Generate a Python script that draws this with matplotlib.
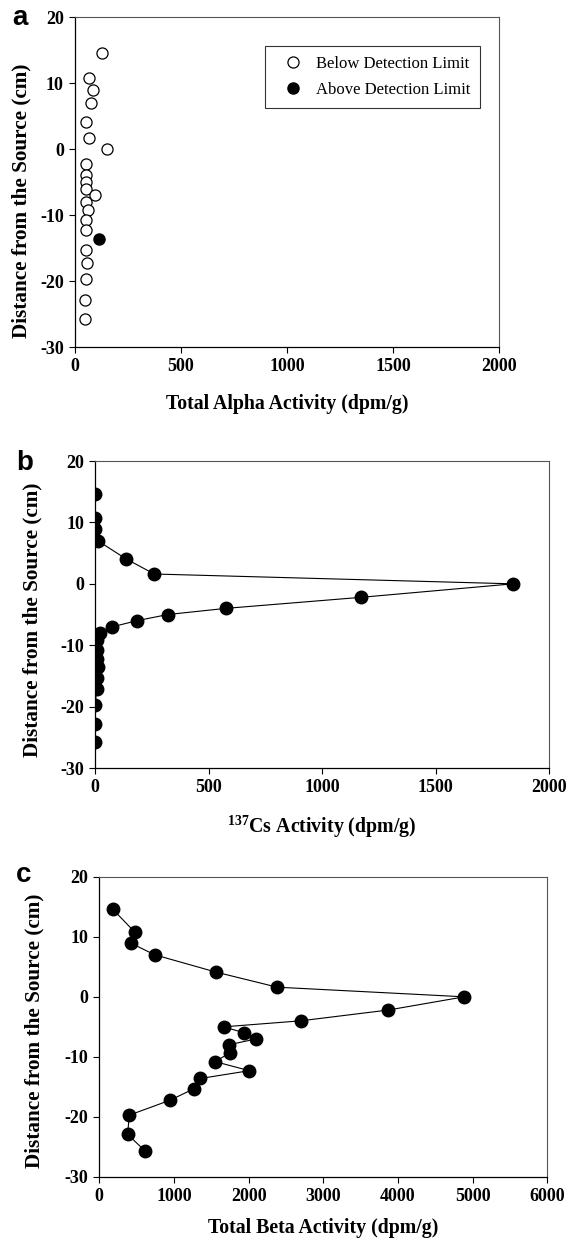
import numpy as np
import matplotlib
matplotlib.use("Agg")
import matplotlib.pyplot as plt

plt.rcParams['font.family'] = ['Liberation Serif', 'DejaVu Serif']
plt.rcParams['mathtext.fontset'] = 'custom'
plt.rcParams['mathtext.rm'] = 'Liberation Serif:bold'
plt.rcParams['mathtext.bf'] = 'Liberation Serif:bold'
plt.rcParams['axes.unicode_minus'] = False

# depth of each sample (cm from the source)
depth = [14.6, 10.8, 8.9, 7.0, 4.1, 1.6, 0.0, -2.2, -4.0, -5.0, -6.0, -7.0,
         -8.0, -9.2, -10.8, -12.3, -13.6, -15.3, -17.2, -19.7, -22.9, -25.7]

# panel a: total alpha, open = below detection limit
alpha_val = [126, 68, 85, 74, 53, 68, 151, 53, 53, 53, 53, 93,
             53, 61, 50, 53, 112, 50, 57, 50, 47, 47]
alpha_above = [False] * 22
alpha_above[16] = True

# panel b: 137Cs
cs_val = [0, 0, 0, 13, 135, 261, 1841, 1171, 575, 320, 185, 76,
          23, 7, 7, 7, 13, 7, 7, 1, 1, 1]

# panel c: total beta (order as connected by the line)
beta_val = [179, 473, 429, 741, 1567, 2384, 4888, 3871, 2696, 1665, 1942, 2103,
            1732, 1750, 1554, 2009, 1353, 1268, 951, 402, 379, 616]
beta_depth = [14.6, 10.8, 8.9, 7.0, 4.1, 1.6, 0.0, -2.2, -4.0, -5.0, -6.0, -7.0,
              -8.0, -9.3, -10.8, -12.3, -13.6, -15.3, -17.2, -19.7, -22.9, -25.7]

fig = plt.figure(figsize=(5.8, 12.43), dpi=100)

ax_a = fig.add_axes([0.1293, 0.7208, 0.731, 0.2655])
ax_b = fig.add_axes([0.1638, 0.3821, 0.7828, 0.247])
ax_c = fig.add_axes([0.1712, 0.0531, 0.7724, 0.2416])


def style(ax, xmax, xstep, ylab_x, ylab_y):
    ax.set_xlim(0, xmax)
    ax.set_ylim(-30, 20)
    ax.set_xticks(np.arange(0, xmax + 1, xstep))
    ax.set_yticks(np.arange(-30, 21, 10))
    ax.tick_params(direction='out', length=4, width=0.8, top=False, right=False, pad=4)
    for lab in ax.get_xticklabels() + ax.get_yticklabels():
        lab.set_fontsize(13)
        lab.set_fontweight('bold')
    for sp in ['top', 'right']:
        ax.spines[sp].set_color('#555555')
        ax.spines[sp].set_linewidth(0.8)
    for sp in ['left', 'bottom']:
        ax.spines[sp].set_color('black')
        ax.spines[sp].set_linewidth(0.9)
    ax.set_ylabel('Distance from the Source (cm)', fontsize=15.3, fontweight='bold')
    ax.yaxis.set_label_coords(ylab_x, ylab_y)


# a
below_x = [v for v, f in zip(alpha_val, alpha_above) if not f]
below_y = [d for d, f in zip(depth, alpha_above) if not f]
above_x = [v for v, f in zip(alpha_val, alpha_above) if f]
above_y = [d for d, f in zip(depth, alpha_above) if f]
ax_a.plot(below_x, below_y, 'o', ms=8, mfc='white', mec='black', mew=0.9,
          ls='none', label='Below Detection Limit')
ax_a.plot(above_x, above_y, 'o', ms=8, mfc='black', mec='black',
          ls='none', label='Above Detection Limit')
style(ax_a, 2000, 500, -0.1016, 0.443)
ax_a.set_xlabel('Total Alpha Activity (dpm/g)', fontsize=14.3, fontweight='bold')
ax_a.xaxis.set_label_coords(0.5, -0.142)
leg = ax_a.legend(loc='upper right', bbox_to_anchor=(0.955, 0.912), fontsize=12,
                  frameon=True, fancybox=False, edgecolor='black', handletextpad=0.25,
                  borderpad=0.6, labelspacing=0.6, handlelength=2.2, borderaxespad=0)
leg.get_frame().set_linewidth(0.8)

# b
ax_b.plot(cs_val, depth, '-o', color='black', lw=0.8, ms=9, mfc='black', mec='black')
style(ax_b, 2000, 500, -0.1166, 0.484)
ax_b.set_xlabel(r'$^{137}$Cs Activity (dpm/g)', fontsize=14.3, fontweight='bold')
ax_b.xaxis.set_label_coords(0.5, -0.1465)

# c
ax_c.plot(beta_val, beta_depth, '-o', color='black', lw=0.8, ms=9, mfc='black', mec='black')
style(ax_c, 6000, 1000, -0.1214, 0.487)
ax_c.set_xlabel('Total Beta Activity (dpm/g)', fontsize=14.3, fontweight='bold')
ax_c.xaxis.set_label_coords(0.5, -0.138)

for letter, xpos, ypos in [('a', 0.021, 0.98), ('b', 0.028, 0.6219), ('c', 0.028, 0.2904)]:
    fig.text(xpos, ypos, letter, fontsize=20, fontweight='bold',
             family=['Liberation Sans', 'DejaVu Sans'], va='baseline')

fig.savefig('out.png', dpi=100)
